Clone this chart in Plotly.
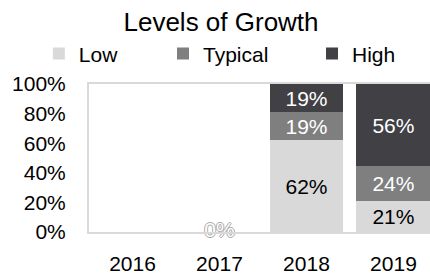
import plotly.graph_objects as go

years = ["2016", "2017", "2018", "2019"]
low = [None, 0.0, 0.62, 0.207]
typical = [None, 0.0, 0.19, 0.236]
high = [None, 0.0, 0.19, 0.557]
low_labels = ["", "", "62%", "21%"]
typical_labels = ["", "", "19%", "24%"]
high_labels = ["", "", "19%", "56%"]
zero_year = ["2017"]
zero_value = [0.0]
zero_label = ["0%"]
y_ticks = [0, 0.2, 0.4, 0.6, 0.8, 1.0]
y_tick_text = ["0%", "20%", "40%", "60%", "80%", "100%"]

FONT = "Liberation Sans, Arial, sans-serif"
C_LOW = "#d9d9d9"
C_TYP = "#7f7f7f"
C_HIGH = "#404045"
FS = 21

fig = go.Figure()
fig.add_trace(go.Bar(name="Low", x=years, y=low, marker_color=C_LOW, legend="legend",
                     text=low_labels, textposition="inside", insidetextanchor="middle",
                     textfont=dict(color="black", size=FS, family=FONT)))
fig.add_trace(go.Bar(name="Typical", x=years, y=typical, marker_color=C_TYP, legend="legend2",
                     text=typical_labels, textposition="inside", insidetextanchor="middle",
                     textfont=dict(color="white", size=FS, family=FONT)))
fig.add_trace(go.Bar(name="High", x=years, y=high, marker_color=C_HIGH, legend="legend3",
                     text=high_labels, textposition="inside", insidetextanchor="middle",
                     textfont=dict(color="white", size=FS, family=FONT)))
fig.add_trace(go.Scatter(x=zero_year, y=zero_value, mode="text", text=zero_label,
                         showlegend=False, cliponaxis=False,
                         textfont=dict(color="white", size=FS, family=FONT,
                                       shadow="-1px 0 #aaa, 1px 0 #aaa, 0 -1px #aaa, 0 1px #aaa")))

fig.update_traces(selector=dict(type="bar"), width=0.85, marker_line_width=0,
                  textangle=0, constraintext="none")

leg_common = dict(orientation="h", y=1.203, yanchor="middle", xanchor="left",
                  font=dict(size=FS, family=FONT, color="black"), bgcolor="rgba(0,0,0,0)",
                  borderwidth=0)
fig.update_layout(
    width=430, height=275,
    margin=dict(l=89, r=0, t=84, b=43, autoexpand=False),
    barmode="stack",
    paper_bgcolor="white", plot_bgcolor="white",
    font=dict(family=FONT, size=FS, color="black"),
    title=dict(text="Levels of Growth", x=0.514, xanchor="center", y=0.92, yanchor="middle",
               font=dict(size=26, family=FONT, color="black")),
    legend=dict(x=-0.147, **leg_common),
    legend2=dict(x=0.217, **leg_common),
    legend3=dict(x=0.654, **leg_common),
    showlegend=True,
)
fig.update_xaxes(type="category", range=[-0.5, 3.42], showgrid=False, showline=True,
                 mirror=True, linecolor=C_LOW, linewidth=2, ticks="", ticklabelstandoff=12,
                 tickfont=dict(size=FS, family=FONT), fixedrange=True, automargin=False)
fig.update_yaxes(range=[0, 1], tickvals=y_ticks, ticktext=y_tick_text, showgrid=False,
                 showline=True, mirror=False, linecolor=C_LOW, linewidth=2, zeroline=False,
                 ticks="", ticklabelstandoff=17, tickfont=dict(size=FS, family=FONT),
                 fixedrange=True, automargin=False)

fig.write_html("out.html", config=dict(displayModeBar=False),
               post_script="document.body.style.margin='0';document.body.style.overflow='hidden';")
